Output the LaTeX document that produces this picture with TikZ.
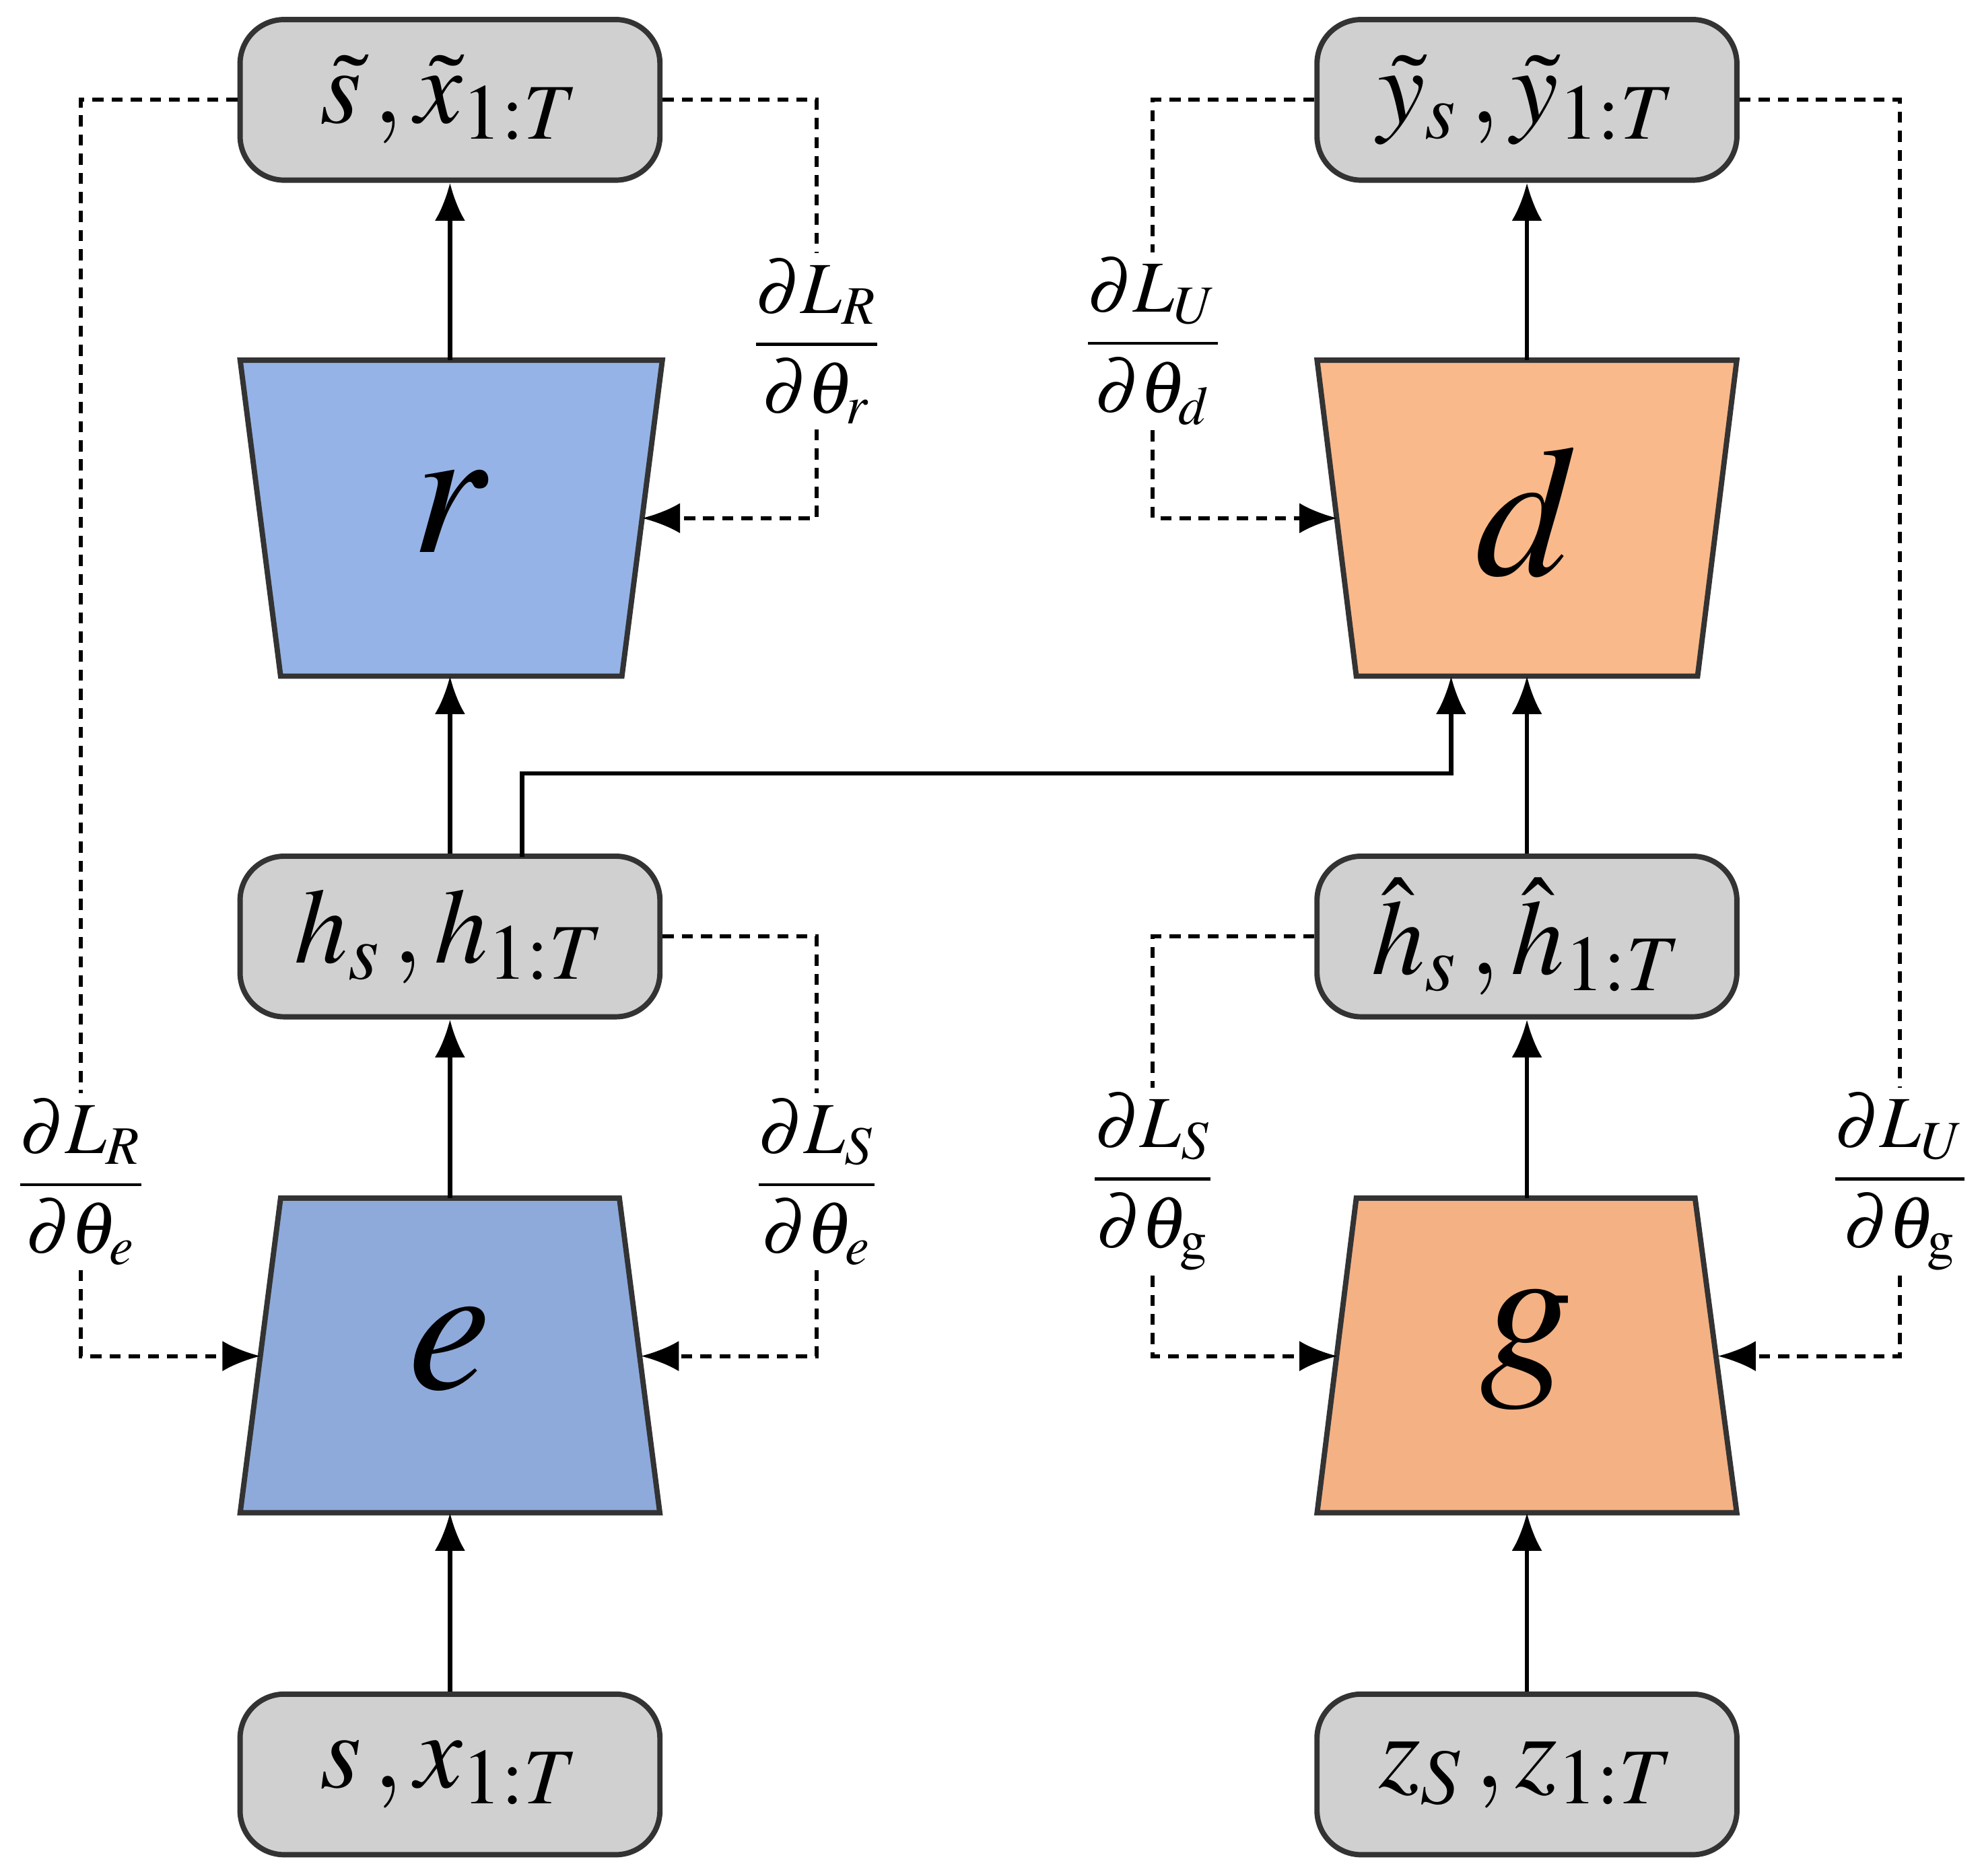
\documentclass[tikz,border=0pt]{standalone}
\usepackage{amsmath}
\usepackage{mathptmx}
\usetikzlibrary{arrows.meta}
\definecolor{boxg}{HTML}{D0D0D0}
\definecolor{blueA}{HTML}{95B3E6}
\definecolor{blueB}{HTML}{8EAADB}
\definecolor{orA}{HTML}{F9B98A}
\definecolor{orB}{HTML}{F4B183}
\begin{document}
\begin{tikzpicture}[x=0.01cm,y=-0.01cm,
 box/.style={draw=black!80,line width=1.2pt,fill=boxg,rounded corners=0.35cm,minimum width=3.32cm,minimum height=1.27cm,font=\fontsize{24}{26}\selectfont},
 trap/.style={draw=black!80,line width=1.2pt},
 big/.style={font=\fontsize{42}{46}\selectfont},
 arr/.style={line width=1pt,-{Latex[length=0.3cm,width=0.24cm]}},
 dsh/.style={line width=0.9pt,dash pattern=on 2.5pt off 1.8pt},
 darr/.style={dsh,-{Latex[length=0.3cm,width=0.24cm]}},
 lab/.style={font=\fontsize{16.5}{18}\selectfont,inner sep=1pt}]
\useasboundingbox (0,0) rectangle (1568,1484);
% boxes
\node[box] (tl) at (356,79) {$\tilde s\,,\tilde x_{1:T}$};
\node[box] (tr) at (1208,79) {$\tilde y_s\,,\tilde y_{1:T}$};
\node[box] (h) at (356,741) {$h_s\,,h_{1:T}$};
\node[box] (hh) at (1208,741) {$\hat h_s\,,\hat h_{1:T}$};
\node[box] (bl) at (356,1404) {$s\,,x_{1:T}$};
\node[box] (br) at (1208,1404) {$z_S\,,z_{1:T}$};
% trapezoids
\draw[trap,fill=blueA] (190,285)--(524,285)--(492,535)--(222,535)--cycle;
\draw[trap,fill=orA] (1042,285)--(1374,285)--(1343,535)--(1073,535)--cycle;
\draw[trap,fill=blueB] (222,948)--(490,948)--(522,1197)--(190,1197)--cycle;
\draw[trap,fill=orB] (1073,948)--(1341,948)--(1374,1197)--(1042,1197)--cycle;
\node[big] (r) at (356,405) {$r$};
\node[big] (d) at (1208,405) {$d$};
\node[big] (e) at (356,1068) {$e$};
\node[big] (g) at (1208,1068) {$g$};
\coordinate (rt) at (356,285); \coordinate (rb) at (356,535);
\coordinate (dt) at (1208,285); \coordinate (db) at (1208,535);
\coordinate (et) at (356,948); \coordinate (eb) at (356,1197);
\coordinate (gt) at (1208,948); \coordinate (gb) at (1208,1197);
\coordinate (db2) at (1148,535);
\coordinate (rr) at (508,410); \coordinate (dl) at (1058,410);
\coordinate (el) at (206,1073); \coordinate (er) at (507,1073);
\coordinate (gl) at (1058,1073); \coordinate (gr) at (1359,1073);
% solid arrows
\draw[arr] (bl.north) -- (eb);
\draw[arr] (et) -- (h.south);
\draw[arr] (h.north) -- (rb);
\draw[arr] (rt) -- (tl.south);
\draw[arr] (br.north) -- (gb);
\draw[arr] (gt) -- (hh.south);
\draw[arr] (hh.north) -- (db);
\draw[arr] (dt) -- (tr.south);
\draw[arr] (413,678) |- (780,612) -| (db2);
% labels
\node[lab] (l1) at (64,935) {$\dfrac{\partial L_R}{\partial\theta_e}$};
\node[lab] (l2) at (646,270) {$\dfrac{\partial L_R}{\partial\theta_r}$};
\node[lab] (l3) at (646,935) {$\dfrac{\partial L_S}{\partial\theta_e}$};
\node[lab] (l4) at (912,270) {$\dfrac{\partial L_U}{\partial\theta_d}$};
\node[lab] (l5) at (912,935) {$\dfrac{\partial L_S}{\partial\theta_{\mathrm g}}$};
\node[lab] (l6) at (1503,935) {$\dfrac{\partial L_U}{\partial\theta_{\mathrm g}}$};
% dashed
\draw[dsh] (tl.west) -| (l1.north);
\draw[darr] (l1.south) |- (el);
\draw[dsh] (tl.east) -| (l2.north);
\draw[darr] (l2.south) |- (rr);
\draw[dsh] (h.east) -| (l3.north);
\draw[darr] (l3.south) |- (er);
\draw[dsh] (tr.west) -| (l4.north);
\draw[darr] (l4.south) |- (dl);
\draw[dsh] (tr.east) -| (l6.north);
\draw[darr] (l6.south) |- (gr);
\draw[dsh] (hh.west) -| (l5.north);
\draw[darr] (l5.south) |- (gl);
\end{tikzpicture}
\end{document}
